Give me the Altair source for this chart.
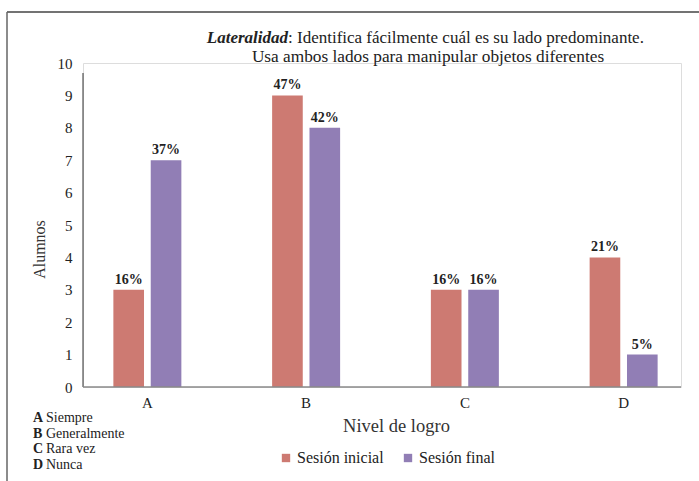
import altair as alt
import pandas as pd

# Achievement levels and the two sessions
niveles = ["A", "B", "C", "D"]
sesiones = ["Sesión inicial", "Sesión final"]
alumnos_inicial = [3, 9, 3, 4]
alumnos_final = [7, 8, 3, 1]
pct_inicial = ["16%", "47%", "16%", "21%"]
pct_final = ["37%", "42%", "16%", "5%"]
ticks_y = [0, 1, 2, 3, 4, 5, 6, 7, 8, 9, 10]

leyenda_letras = ["A", "B", "C", "D"]
leyenda_textos = ["Siempre", "Generalmente", "Rara vez", "Nunca"]

titulo_negrita = "Lateralidad"
titulo_linea1 = ": Identifica fácilmente cuál es su lado predominante."
titulo_linea2 = "Usa ambos lados para manipular objetos diferentes"

rojo = "#CD7A72"
morado = "#917EB5"
FONT = "Liberation Serif"
W, H = 598, 324

rows = []
for i, n in enumerate(niveles):
    rows.append({"nivel": n, "sesion": sesiones[0], "alumnos": alumnos_inicial[i], "pct": pct_inicial[i]})
    rows.append({"nivel": n, "sesion": sesiones[1], "alumnos": alumnos_final[i], "pct": pct_final[i]})
df = pd.DataFrame(rows)
uno = pd.DataFrame({"k": [0]})

x_enc = alt.X(
    "nivel:N",
    sort=niveles,
    scale=alt.Scale(range=[-15, 620], paddingInner=0.5717, paddingOuter=0.2858),
    axis=alt.Axis(
        title="Nivel de logro", labelAngle=0, domain=False, ticks=False,
        labelFont=FONT, labelFontSize=15, labelColor="#222", labelPadding=8,
        titleFont=FONT, titleFontSize=18.5, titleFontWeight="normal", titleColor="#333",
        titlePadding=6, titleX=313,
    ),
)
xoff_enc = alt.XOffset("sesion:N", sort=sesiones, scale=alt.Scale(paddingInner=0.18, paddingOuter=0))
y_enc = alt.Y(
    "alumnos:Q",
    scale=alt.Scale(domain=[0, 10]),
    axis=alt.Axis(
        title="Alumnos", values=ticks_y, tickCount=11, grid=False, domain=False, ticks=False,
        labelOverlap=False, labelFlush=False,
        labelFont=FONT, labelFontSize=15, labelColor="#222", labelPadding=11,
        titleFont=FONT, titleFontSize=16, titleFontWeight="normal", titleColor="#333",
        titlePadding=10, titleY=186,
    ),
)

base = alt.Chart(df)

barras = base.mark_bar().encode(
    x=x_enc,
    xOffset=xoff_enc,
    y=y_enc,
    color=alt.Color(
        "sesion:N",
        sort=sesiones,
        scale=alt.Scale(domain=sesiones, range=[rojo, morado]),
        legend=alt.Legend(
            title=None, orient="none", direction="horizontal", legendX=195, legendY=387,
            symbolType="square", symbolSize=70, symbolStrokeWidth=0,
            labelFont=FONT, labelFontSize=16, labelColor="#222",
            columnPadding=16, labelOffset=3,
        ),
    ),
)

etiquetas = base.mark_text(
    font=FONT, fontSize=14, fontWeight="bold", color="#222", baseline="bottom", dy=-3
).encode(
    x=x_enc,
    xOffset=xoff_enc,
    y=y_enc,
    text="pct:N",
)

# axis lines and outer frame
eje_y = alt.Chart(uno).mark_rule(color="#333", strokeWidth=1).encode(
    x=alt.value(0), y=alt.value(10), y2=alt.value(H)
)
eje_x = alt.Chart(uno).mark_rule(color="#8a8a8a", strokeWidth=1.5).encode(
    x=alt.value(0), x2=alt.value(W), y=alt.value(H)
)
marco_sup = alt.Chart(uno).mark_rule(color="#444", strokeWidth=1.5).encode(
    x=alt.value(-76), x2=alt.value(640), y=alt.value(-51)
)
marco_izq = alt.Chart(uno).mark_rule(color="#666", strokeWidth=1.5).encode(
    x=alt.value(-76), y=alt.value(-51), y2=alt.value(430)
)

# two-line title with bold-italic keyword
t1a = alt.Chart(uno).mark_text(
    text=titulo_negrita, font=FONT, fontSize=17, fontWeight="bold", fontStyle="italic",
    color="#222", align="right", baseline="middle",
).encode(x=alt.value(205), y=alt.value(-25))
t1b = alt.Chart(uno).mark_text(
    text=titulo_linea1, font=FONT, fontSize=17, color="#222", align="left", baseline="middle",
).encode(x=alt.value(205), y=alt.value(-25))
t2 = alt.Chart(uno).mark_text(
    text=titulo_linea2, font=FONT, fontSize=17.3, color="#222", align="center", baseline="middle",
).encode(x=alt.value(345), y=alt.value(-6))

# level key at the lower left
letras = alt.Chart(uno).mark_text(
    text=leyenda_letras, font=FONT, fontSize=14, fontWeight="bold", color="#222",
    align="left", baseline="top", lineHeight=15.6,
).encode(x=alt.value(-50), y=alt.value(348))
textos = alt.Chart(uno).mark_text(
    text=leyenda_textos, font=FONT, fontSize=14, color="#222",
    align="left", baseline="top", lineHeight=15.6,
).encode(x=alt.value(-37), y=alt.value(348))

chart = alt.layer(
    barras, etiquetas, eje_y, eje_x, marco_sup, marco_izq, t1a, t1b, t2, letras, textos
).properties(
    width=W, height=H,
    autosize=alt.AutoSizeParams(type="none"),
    padding={"left": 83, "top": 63, "right": 18, "bottom": 94},
).configure_view(stroke=None).configure(background="white")

chart.save("out.html", embed_options={"renderer": "svg", "actions": False})
